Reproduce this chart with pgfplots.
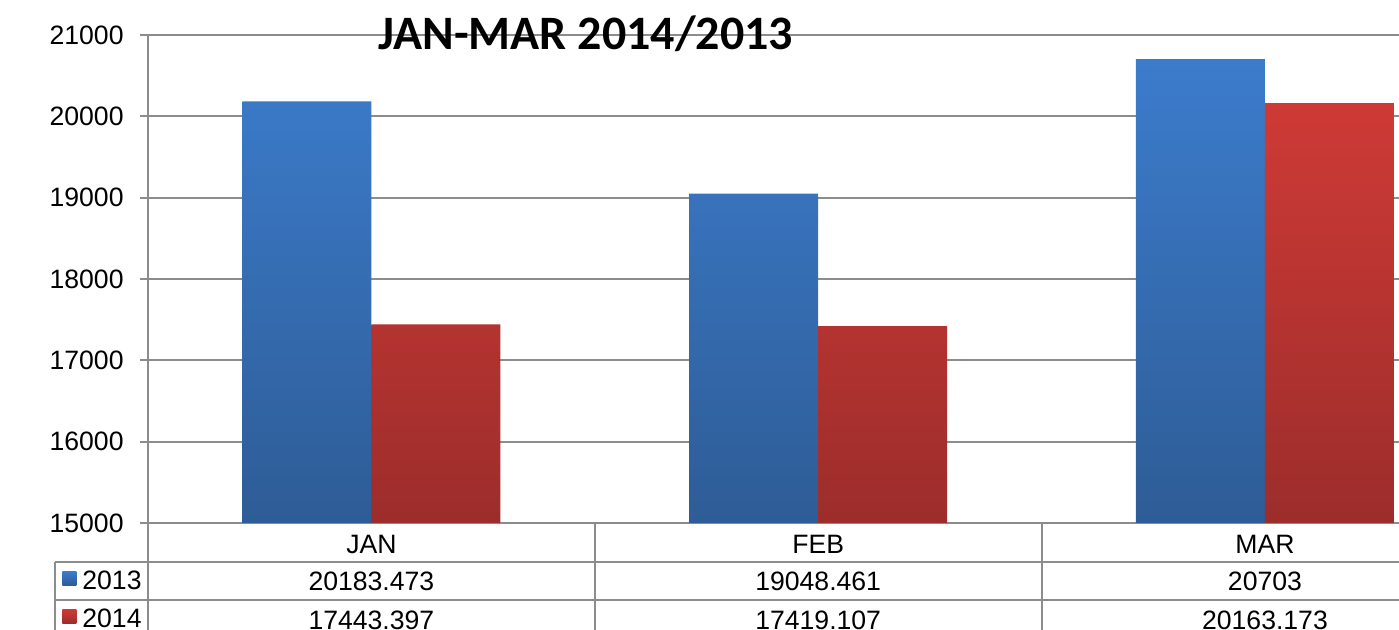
\documentclass[border=0pt]{standalone}
\usepackage{fontspec}
\setmainfont{Liberation Sans}
\newfontfamily\titlefont{Carlito}
\usepackage{pgfplots}
\pgfplotsset{compat=1.18}
\definecolor{gridgray}{RGB}{140,140,140}
\definecolor{bluetop}{RGB}{60,124,204}
\definecolor{bluebot}{RGB}{46,92,150}
\definecolor{redtop}{RGB}{206,58,54}
\definecolor{redbot}{RGB}{156,45,43}
\newcommand{\tfont}{\fontsize{13.3}{16}\selectfont}
\begin{document}
\begin{tikzpicture}
\begin{axis}[
  scale only axis, width=625.5pt, height=244pt,
  xmin=-0.5, xmax=2.3, ymin=15000, ymax=21000,
  ybar=0pt, bar width=64.5pt,
  axis x line=bottom, axis y line=left,
  axis line style={-, draw=gridgray, line width=1pt},
  ytick={15000,16000,...,21000},
  ymajorgrids, grid style={gridgray, line width=1pt},
  xtick={0,1,2}, xticklabels={JAN,FEB,MAR},
  tick align=outside, major tick length=4pt,
  xtick style={draw=none},
  ytick style={gridgray, line width=1pt},
  scaled y ticks=false,
  yticklabel style={/pgf/number format/1000 sep={}, /pgf/number format/assume math mode=true,
    font=\tfont, anchor=east, inner sep=0pt, xshift=-8pt},
  xticklabel style={font=\tfont, anchor=center, inner sep=0pt, yshift=-6.5pt},
  clip=false,
  legend style={draw=none, fill=none, at={(rel axis cs:0,0)}, anchor=north west,
    xshift=-43pt, yshift=-19.5pt, font=\tfont, inner sep=0pt, row sep=0pt,
    column sep=3pt, nodes={inner sep=0pt, minimum height=19pt}},
  legend cell align=left,
  legend image code/.code={\path[#1] (0pt,-1.9pt) rectangle (7pt,5.1pt);},
]
\addplot[draw=none, top color=bluetop, bottom color=bluebot] coordinates {(0,20183.473) (1,19048.461) (2,20703)};
\addplot[draw=none, top color=redtop, bottom color=redbot] coordinates {(0,17443.397) (1,17419.107) (2,20163.173)};
\legend{2013,2014}
\node[font=\titlefont\bfseries\fontsize{24}{29}\selectfont, anchor=base] at (axis cs:0.48,20816) {JAN-MAR 2014/2013};
% data table
\draw[gridgray, line width=1pt] (rel axis cs:0,0) -- ([yshift=-60pt]rel axis cs:0,0);
\draw[gridgray, line width=1pt] (axis cs:0.5,15000) -- ([yshift=-60pt]axis cs:0.5,15000);
\draw[gridgray, line width=1pt] (axis cs:1.5,15000) -- ([yshift=-60pt]axis cs:1.5,15000);
\draw[gridgray, line width=1pt] ([xshift=-46.5pt,yshift=-19.5pt]rel axis cs:0,0) -- ([xshift=10pt,yshift=-19.5pt]rel axis cs:1,0);
\draw[gridgray, line width=1pt] ([xshift=-46.5pt,yshift=-38.5pt]rel axis cs:0,0) -- ([xshift=10pt,yshift=-38.5pt]rel axis cs:1,0);
\draw[gridgray, line width=1pt] ([xshift=-46.5pt,yshift=-19.5pt]rel axis cs:0,0) -- ([xshift=-46.5pt,yshift=-60pt]rel axis cs:0,0);
\node[font=\tfont, yshift=-29pt] at (axis cs:0,15000) {20183.473};
\node[font=\tfont, yshift=-29pt] at (axis cs:1,15000) {19048.461};
\node[font=\tfont, yshift=-29pt] at (axis cs:2,15000) {20703};
\node[font=\tfont, yshift=-48.5pt] at (axis cs:0,15000) {17443.397};
\node[font=\tfont, yshift=-48.5pt] at (axis cs:1,15000) {17419.107};
\node[font=\tfont, yshift=-48.5pt] at (axis cs:2,15000) {20163.173};
\end{axis}
\pgfresetboundingbox
\path[use as bounding box] (-74pt,-53.5pt) rectangle (625.5pt,261.5pt);
\end{tikzpicture}
\end{document}
